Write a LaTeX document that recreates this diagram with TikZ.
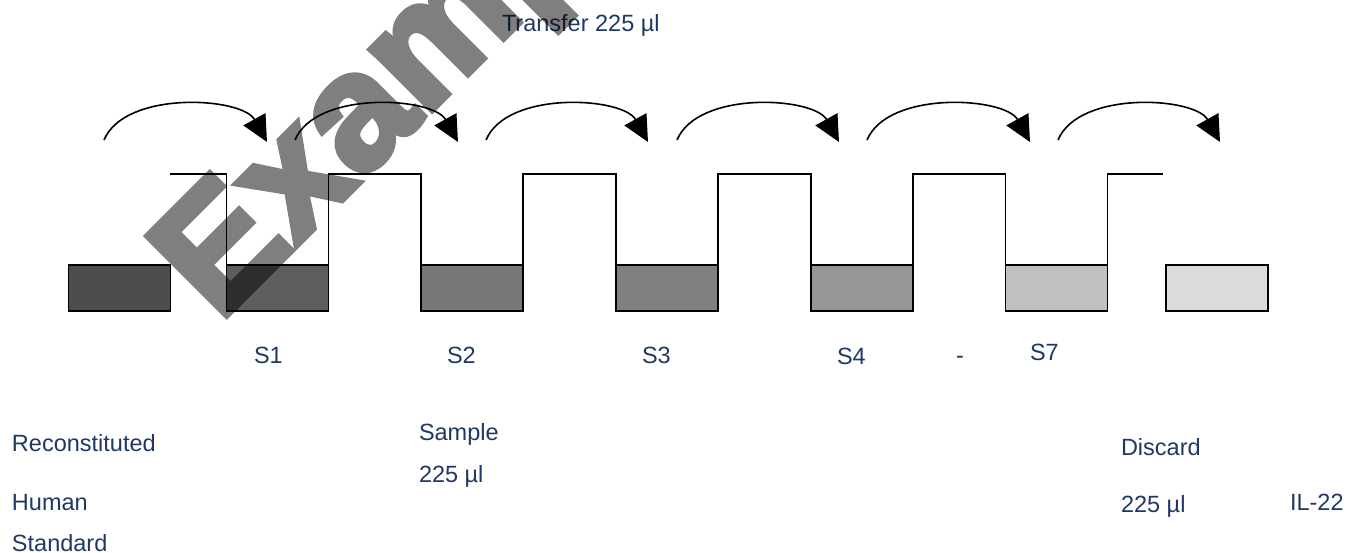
\documentclass[tikz,border=0pt]{standalone}
\usepackage{fontspec}
\setmainfont{Liberation Sans}
\newfontfamily\wmfont{Liberation Sans}[BoldFeatures={FakeBold=4}]
\usetikzlibrary{arrows.meta}
\definecolor{txtblue}{RGB}{31,56,100}
\definecolor{f0}{HTML}{4D4D4D}
\definecolor{f1}{HTML}{5E5E5E}
\definecolor{f2}{HTML}{777777}
\definecolor{f3}{HTML}{808080}
\definecolor{f4}{HTML}{969696}
\definecolor{f5}{HTML}{C0C0C0}
\definecolor{f6}{HTML}{DCDCDC}
\begin{document}
\begin{tikzpicture}[x=1pt,y=1pt,
  liquid/.style={draw=black,line width=1.6pt,rectangle,minimum width=102pt,minimum height=46pt,inner sep=0pt,outer sep=0pt},
  tube/.style={draw=black,line width=1.6pt,line join=miter},
  arr/.style={draw=black,line width=1.6pt,-{Triangle[length=26pt,width=25pt]}},
  lbl/.style={text=txtblue,anchor=base west,inner sep=0pt,outer sep=0pt,font=\fontsize{23.5}{28}\selectfont},
  wm/.style={anchor=base west,inner sep=0pt,outer sep=0pt,text=black,rotate=45,font=\fontsize{163}{190}\wmfont\bfseries}]
\useasboundingbox (0,0) rectangle (1347,552);
% liquid boxes
\node[liquid,fill=f0] (b0) at (119.5,264) {};
\node[liquid,fill=f1] (b1) at (277.5,264) {};
\node[liquid,fill=f2] (b2) at (472,264) {};
\node[liquid,fill=f3] (b3) at (667,264) {};
\node[liquid,fill=f4] (b4) at (862,264) {};
\node[liquid,fill=f5] (b5) at (1056.5,264) {};
\node[liquid,fill=f6] (b6) at (1217,264) {};
% tube outlines
\coordinate (lt) at (170,378);
\coordinate (rt) at (1163,378);
\draw[tube] (lt) -| (b1.north west);
\foreach \a/\b in {b1/b2,b2/b3,b3/b4,b4/b5}
  \draw[tube] (\a.north east) -- ++(0,91) -| (\b.north west);
\draw[tube] (b5.north east) -- ++(0,91) -- (rt);
% transfer arrows
\foreach \i/\s/\t in {1/104/267,2/295/458,3/486/648,4/677/839,5/867/1030,6/1058/1220}{
  \coordinate (s\i) at (\s,412);
  \coordinate (t\i) at (\t,410);
  \draw[arr] (s\i) .. controls ([xshift=21pt,yshift=50pt]s\i) and ([xshift=-25pt,yshift=45pt]t\i) .. (t\i);
}
% labels
\node[lbl] (transfer) at (502,520) {Transfer 225 µl};
\node[lbl] (S1) at (254,188) {S1};
\node[lbl] (S2) at (447,188) {S2};
\node[lbl] (S3) at (642,188) {S3};
\node[lbl] (S4) at (837,187) {S4};
\node[lbl] (dash) at (956,188) {-};
\node[lbl] (S7) at (1030,191) {S7};
\node[lbl] (recon) at (12,100) {Reconstituted};
\node[lbl] (human) at (12,42) {Human};
\node[lbl] (standard) at (12,1) {Standard};
\node[lbl] (sample) at (419,111) {Sample};
\node[lbl] (samplevol) at (419,70) {225 µl};
\node[lbl] (discard) at (1121,96) {Discard};
\node[lbl] (discardvol) at (1121,40) {225 µl};
\node[lbl] (il) at (1290,42) {IL-22};
% watermark
\begin{scope}[transparency group,opacity=0.5]
  \node[wm] (watermark) at (219,229) {Example};
\end{scope}
\end{tikzpicture}
\end{document}
